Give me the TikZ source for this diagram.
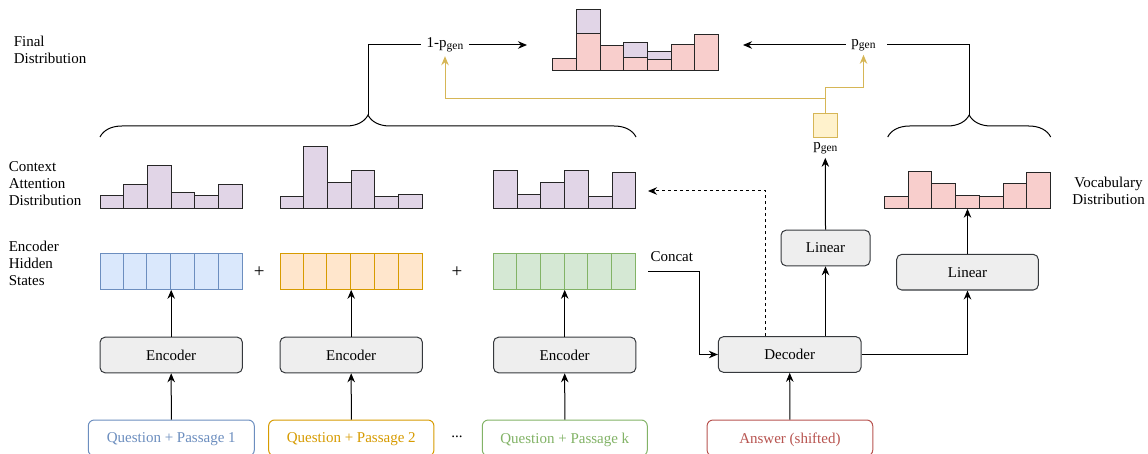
\documentclass[tikz,border=0pt]{standalone}
\usepackage{fontspec}
\setmainfont{Liberation Serif}
\usetikzlibrary{arrows.meta,decorations.pathreplacing,calc}

\definecolor{attnfill}{HTML}{E1D5E7}
\definecolor{vocfill}{HTML}{F8CECC}
\definecolor{bluefill}{HTML}{DAE8FC}
\definecolor{bluedraw}{HTML}{6C8EBF}
\definecolor{orangefill}{HTML}{FFE6CC}
\definecolor{orangedraw}{HTML}{D79B00}
\definecolor{greenfill}{HTML}{D5E8D4}
\definecolor{greendraw}{HTML}{82B366}
\definecolor{gatefill}{HTML}{FFF2CC}
\definecolor{gatedraw}{HTML}{D6B656}
\definecolor{reddraw}{HTML}{B85450}
\definecolor{boxfill}{HTML}{EEEEEE}
\definecolor{boxdraw}{HTML}{36393D}

\newcommand{\pgen}{p\raisebox{-0.35ex}{\fontsize{11.5}{11.5}\selectfont gen}}

\begin{document}
\begin{tikzpicture}[x=1pt, y=-1pt, line width=1pt,
    font=\fontsize{15}{16.8}\selectfont,
    >={Stealth[length=9pt,width=7.5pt]},
    bar/.style={draw=black!85},
    block/.style={draw=boxdraw, fill=boxfill, rounded corners=5pt, minimum height=35.6pt, inner sep=0pt},
    inbox/.style={draw=#1, text=#1, fill=white, rounded corners=6pt, minimum width=166pt, minimum height=36pt, inner sep=0pt, text depth=0pt},
    cells/.style n args={2}{draw=#1, fill=#2, minimum width=142.3pt, minimum height=36pt, inner sep=0pt},
    sidetext/.style={align=left, anchor=north west, inner sep=0pt},
    gateline/.style={draw=gatedraw}]
\clip (0,0) rectangle (1148,454);

\node[sidetext] (finaltxt) at (13.3,36) {Final\\Distribution};
\node[sidetext] (ctxtxt) at (8.3,161.5) {Context\\Attention\\Distribution};
\node[sidetext] (hidtxt) at (8.3,240.5) {Encoder\\Hidden\\States};
\node[align=center, anchor=north, inner sep=0pt] (voctxt) at (1108.5,176.5) {Vocabulary\\Distribution};

\node[inbox=bluedraw] (in1) at (171.3,438) {Question + Passage 1};
\node[inbox=orangedraw, minimum width=165.3pt] (in2) at (351.3,438) {Question + Passage 2};
\node (dots) at (457,437) {...};
\node[inbox=greendraw, minimum width=165pt] (ink) at (564.8,438) {Question + Passage k};
\node[inbox=reddraw, minimum width=165.7pt] (ans) at (789.9,438) {Answer (shifted)};

\node[block, minimum width=142.3pt] (enc1) at (171.2,355) {Encoder};
\node[block, minimum width=142.3pt] (enc2) at (351.2,355) {Encoder};
\node[block, minimum width=142.3pt] (enc3) at (564.7,355) {Encoder};
\node[block, minimum width=142.7pt] (dec) at (789.7,354.5) {Decoder};
\node[block, minimum width=89pt] (lin1) at (825.5,248) {Linear};
\node[block, minimum width=141.6pt] (lin2) at (967.5,272.2) {Linear};

\node[cells={bluedraw}{bluefill}] (h1) at (171.2,271.3) {};
\node[cells={orangedraw}{orangefill}] (h2) at (351.2,271.3) {};
\node[cells={greendraw}{greenfill}] (h3) at (564.7,271.3) {};
\foreach \k in {1,...,5} {
  \draw[bluedraw] ([xshift={23.72*\k}]h1.south west) -- ([xshift={23.72*\k}]h1.north west);
  \draw[orangedraw] ([xshift={23.72*\k}]h2.south west) -- ([xshift={23.72*\k}]h2.north west);
  \draw[greendraw] ([xshift={23.72*\k}]h3.south west) -- ([xshift={23.72*\k}]h3.north west);
}
\node[font=\fontsize{19}{19}\selectfont] (plus1) at (259.3,272) {+};
\node[font=\fontsize{19}{19}\selectfont] (plus2) at (457,272) {+};
\node[anchor=base west, inner sep=0pt] (concat) at (650,261.7) {Concat};

\foreach \t [count=\i from 0] in {196,185,165.3,192.7,196,184.3}
  \draw[bar, fill=attnfill] ({100+23.72*\i},208.3) rectangle ({100+23.72*(\i+1)},\t);
\foreach \t [count=\i from 0] in {196.3,147,182.3,170.7,196.3,194.3}
  \draw[bar, fill=attnfill] ({280+23.72*\i},208.3) rectangle ({280+23.72*(\i+1)},\t);
\foreach \t [count=\i from 0] in {171,194.3,182.3,171,196.3,172.3}
  \draw[bar, fill=attnfill] ({493.3+23.78*\i},208.3) rectangle ({493.3+23.78*(\i+1)},\t);
\foreach \t [count=\i from 0] in {197,171.3,183.3,195.3,197,183.3,172.3}
  \draw[bar, fill=vocfill] ({884.3+23.77*\i},208.7) rectangle ({884.3+23.77*(\i+1)},\t);
\foreach \t [count=\i from 0] in {59,33.3,45.3,57.3,59.3,45,34.3}
  \draw[bar, fill=vocfill] ({552.7+23.71*\i},70.7) rectangle ({552.7+23.71*(\i+1)},\t);
\foreach \i/\b/\t in {1/33.3/9.7,3/57.3/42.7,4/59.3/51.7}
  \draw[bar, fill=attnfill] ({552.7+23.71*\i},\b) rectangle ({552.7+23.71*(\i+1)},\t);

\coordinate (vocab) at (967.5,208.7);
\coordinate (ctxk) at (648,191);
\coordinate (finL) at (527,45);
\coordinate (finR) at (743,45);
\coordinate (ctxtip) at (368,115);
\coordinate (voctip) at (969.2,115);

\node[draw=gatedraw, fill=gatefill, minimum size=24pt, inner sep=0pt] (gate) at (825.3,125.8) {};
\node (gatelabel) at (825.3,148) {\pgen};
\node[inner xsep=5pt] (onem) at (445,45) {1-\pgen};
\node[inner xsep=5pt] (pg) at (863.5,45) {\pgen};

\draw[decorate, decoration={brace,amplitude=22pt}] (100,137) -- (636,137);
\draw[decorate, decoration={brace,amplitude=22pt}] (887.7,137) -- (1050.7,137);
\draw (ctxtip) |- (onem.west);
\draw (voctip) |- ([xshift=6pt]pg.east);
\draw[->] (onem.east) -- (finL);
\draw[->] (pg.west) -- (finR);

\draw[gateline, ->] (gate.north) -- ++(0,-14.5) -| (onem.south);
\draw[gateline, ->] (gate.north) -- ++(0,-26) -| (pg.south);

\draw[->] (in1.north) -- (enc1.south);
\draw[->] (in2.north) -- (enc2.south);
\draw[->] (ink.north) -- (enc3.south);
\draw[->] (enc1.north) -- (h1.south);
\draw[->] (enc2.north) -- (h2.south);
\draw[->] (enc3.north) -- (h3.south);
\draw[->] (ans.north) -- (dec.south);
\draw[->] ([xshift=12pt]h3.east) -- ++(51,0) |- (dec.west);
\draw[->, dash pattern=on 3pt off 3pt] ([xshift=-24pt]dec.north) |- (ctxk);
\draw[->] (dec.north -| lin1.south) -- (lin1.south);
\draw[->] (lin1.north) -- (gatelabel.south);
\draw[->] (dec.east) -| (lin2.south);
\draw[->] (lin2.north) -- (vocab);
\end{tikzpicture}
\end{document}
